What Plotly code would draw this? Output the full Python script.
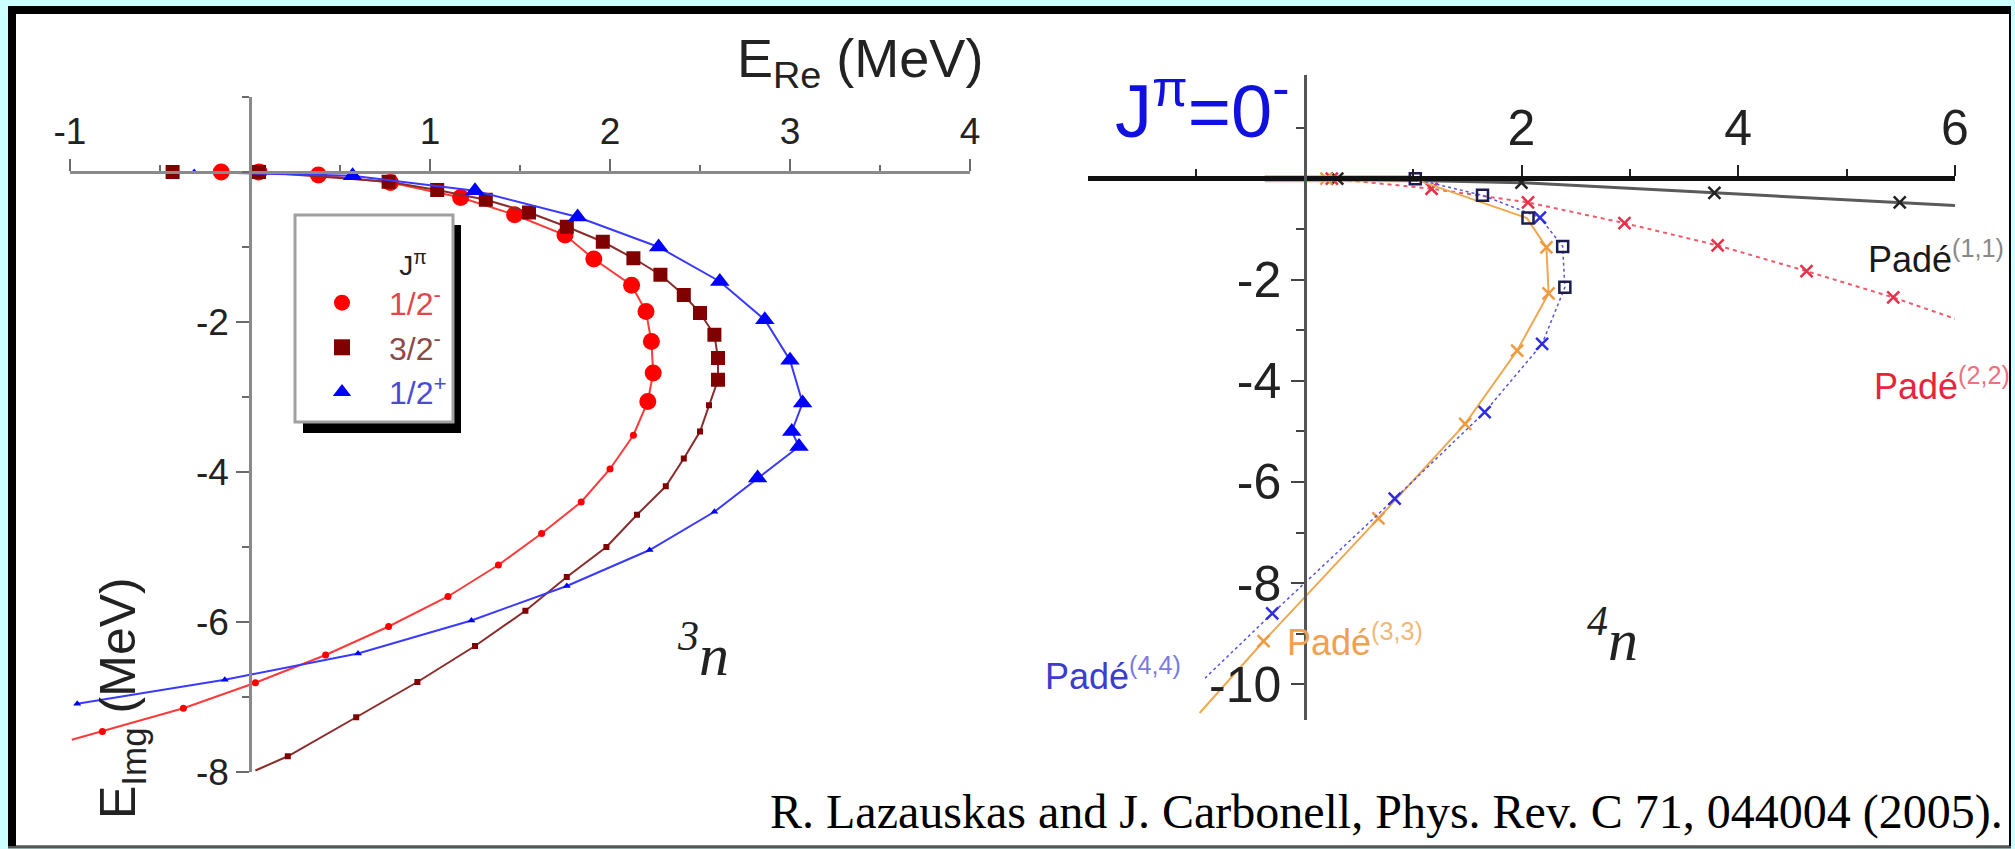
import plotly.graph_objects as go

W, H = 2015, 849

# ---------------- data : left panel, 3n resonance trajectories ----------------
half_minus_x = [-0.16, 0.05, 0.38, 0.78, 1.17, 1.47, 1.75, 1.91, 2.12, 2.20, 2.23, 2.24, 2.21,
                2.13, 2.00, 1.84, 1.62, 1.38, 1.10, 0.77, 0.42, 0.03, -0.37, -0.82, -0.99]
half_minus_y = [0.0, 0.0, -0.04, -0.14, -0.34, -0.57, -0.84, -1.16, -1.51, -1.86, -2.26, -2.68, -3.06,
                -3.51, -3.96, -4.40, -4.82, -5.24, -5.66, -6.06, -6.44, -6.81, -7.15, -7.46, -7.57]

three_half_minus_x = [-0.43, 0.05, 0.77, 1.04, 1.31, 1.55, 1.76, 1.96, 2.13, 2.28, 2.41, 2.50, 2.58, 2.60,
                      2.60, 2.55, 2.50, 2.41, 2.31, 2.15, 1.98, 1.76, 1.53, 1.25, 0.93, 0.59, 0.21, 0.03]
three_half_minus_y = [0.0, 0.0, -0.13, -0.24, -0.37, -0.54, -0.73, -0.93, -1.15, -1.37, -1.64, -1.88, -2.17,
                      -2.48, -2.77, -3.11, -3.46, -3.82, -4.19, -4.57, -5.00, -5.40, -5.85, -6.32, -6.80,
                      -7.27, -7.79, -7.98]

half_plus_x = [-0.31, 0.57, 1.25, 1.82, 2.27, 2.61, 2.86, 3.00, 3.07, 3.01, 3.05, 2.82, 2.58, 2.22,
               1.76, 1.23, 0.60, -0.14, -0.96]
half_plus_y = [0.0, -0.05, -0.25, -0.60, -1.00, -1.46, -1.97, -2.51, -3.08, -3.46, -3.66, -4.08, -4.53,
               -5.04, -5.52, -5.98, -6.42, -6.77, -7.09]

# ---------------- data : right panel, 4n J^pi=0^- Pade continuations ----------------
pade11_x = [0.30, 2.00, 3.78, 5.49, 6.00]
pade11_y = [0.0, -0.08, -0.28, -0.47, -0.53]

pade22_x = [0.25, 1.17, 2.06, 2.95, 3.81, 4.63, 5.43, 6.00]
pade22_y = [0.0, -0.20, -0.47, -0.88, -1.32, -1.83, -2.35, -2.77]

pade33_axis_x = [-0.37, 1.00]
pade33_axis_y = [0.0, 0.0]
pade33_x = [0.20, 1.00, 2.05, 2.23, 2.25, 1.96, 1.48, 0.68, -0.38, -0.97]
pade33_y = [0.0, 0.0, -0.78, -1.36, -2.27, -3.40, -4.85, -6.72, -9.15, -10.57]

pade44_x = [1.00, 1.64, 2.17, 2.38, 2.40, 2.19, 1.66, 0.83, -0.30, -0.92]
pade44_y = [0.0, -0.33, -0.77, -1.34, -2.15, -3.27, -4.62, -6.33, -8.60, -9.88]

square_x = [1.02, 1.64, 2.06, 2.38, 2.40]
square_y = [0.0, -0.33, -0.78, -1.34, -2.15]

left_xticks = [-1, 1, 2, 3, 4]
left_yticks = [-2, -4, -6, -8]
right_xticks = [2, 4, 6]
right_yticks = [-2, -4, -6, -8, -10]

# ---------------- helpers (layout only) ----------------
def px(x):
    return x / W


def py(y):
    return 1 - y / H


def flags(n, shown):
    return [1 if i in shown else 0 for i in range(n)]


SANS = "Liberation Sans, Arial, sans-serif"
SERIF = "Liberation Serif, Times New Roman, serif"

fig = go.Figure()


def left_series(x, y, big_idx, symbol, mcolor, lcolor, big, small, no_marker_last=False):
    n = len(x)
    size = [big if i in big_idx else small for i in range(n)]
    op = [1] * n
    if no_marker_last:
        op[-1] = 0
    fig.add_trace(go.Scatter(
        x=x, y=y, mode="lines+markers", xaxis="x", yaxis="y", showlegend=False,
        line=dict(color=lcolor, width=2),
        marker=dict(symbol=symbol, size=size, color=mcolor, opacity=op, line=dict(width=0)),
        cliponaxis=False))


left_series(half_minus_x, half_minus_y, range(0, 13), "circle", "#ff0000", "#ff3a3a", 17, 7, True)
left_series(three_half_minus_x, three_half_minus_y, range(0, 15), "square", "#800000", "#8b2c2c", 14, 6, True)
left_series(half_plus_x, half_plus_y, range(1, 12), "triangle-up", "#0000ff", "#3a3aff", 17, 7)

# legend-only entries
for name, sym, col in [
    ('<span style="color:#e04848">1/2<sup>-</sup></span>', "circle", "#ff0000"),
    ('<span style="color:#8a4a4a">3/2<sup>-</sup></span>', "square", "#800000"),
    ('<span style="color:#4a4ad8">1/2<sup>+</sup></span>', "triangle-up", "#0000ff"),
]:
    fig.add_trace(go.Scatter(x=[None], y=[None], mode="markers", xaxis="x", yaxis="y",
                             name=name, marker=dict(symbol=sym, size=18, color=col)))


def right_series(x, y, lcolor, lwidth, dash, mcolor, shown, msize=12):
    n = len(x)
    fig.add_trace(go.Scatter(
        x=x, y=y, mode="lines+markers", xaxis="x2", yaxis="y2", showlegend=False,
        line=dict(color=lcolor, width=lwidth, dash=dash),
        marker=dict(symbol="x-thin", size=msize, color=mcolor, opacity=flags(n, shown),
                    line=dict(color=mcolor, width=2.5)),
        cliponaxis=False))


# thick orange segment on the real axis
fig.add_trace(go.Scatter(x=pade33_axis_x, y=pade33_axis_y, mode="lines", xaxis="x2", yaxis="y2",
                         showlegend=False, line=dict(color="#f2a27a", width=7)))
right_series(pade11_x, pade11_y, "#5a5a5a", 3, "solid", "#222222", {0, 1, 2, 3})
right_series(pade22_x, pade22_y, "#ee5a6a", 2, "4px,4px", "#e8304a", {0, 1, 2, 3, 4, 5, 6})
right_series(pade33_x, pade33_y, "#f0a850", 2, "solid", "#f09a40", {0, 3, 4, 5, 6, 7, 8})
right_series(pade44_x, pade44_y, "#5555e0", 1.5, "dot", "#2c2ce0", {2, 5, 6, 7, 8})
fig.add_trace(go.Scatter(x=square_x, y=square_y, mode="markers", xaxis="x2", yaxis="y2", showlegend=False,
                         marker=dict(symbol="square-open", size=11, color="#1c1c50", line=dict(width=2.5)),
                         cliponaxis=False))

# ---------------- axes ----------------
left_font = dict(family=SANS, size=37, color="#222222")
right_font = dict(family=SANS, size=50, color="#222222")

common = dict(showgrid=False, zeroline=False, automargin=False, fixedrange=True)

fig.update_layout(
    xaxis=dict(domain=[px(70), px(970)], range=[-1, 4], anchor="free", position=py(172), side="top",
               showline=True, linecolor="#8a8a8a", linewidth=3, ticks="outside", ticklen=12, tickwidth=2,
               tickcolor="#6a6a6a", tickmode="array", tickvals=left_xticks,
               ticktext=[str(v) for v in left_xticks], tickfont=left_font,
               minor=dict(tickmode="array", tickvals=[-0.5, 0.5, 1.5, 2.5, 3.5], ticklen=6, tickwidth=2,
                          tickcolor="#6a6a6a", ticks="outside", showgrid=False), **common),
    yaxis=dict(domain=[py(772), py(97)], range=[-8, 1], anchor="free", position=px(250), side="left",
               showline=True, linecolor="#8a8a8a", linewidth=2.5, ticks="outside", ticklen=13, tickwidth=2,
               tickcolor="#6a6a6a", tickmode="array", tickvals=left_yticks,
               ticktext=[str(v) for v in left_yticks], tickfont=left_font,
               minor=dict(tickmode="array", tickvals=[1, 0, -1, -3, -5, -7], ticklen=7, tickwidth=2,
                          tickcolor="#6a6a6a", ticks="outside", showgrid=False), **common),
    xaxis2=dict(domain=[px(1088), px(1955)], range=[-2, 6], anchor="free", position=py(178), side="top",
                showline=True, linecolor="#111111", linewidth=5, ticks="outside", ticklen=11, tickwidth=2,
                tickcolor="#222222", tickmode="array", tickvals=right_xticks,
                ticktext=[str(v) for v in right_xticks], tickfont=right_font,
                minor=dict(tickmode="array", tickvals=[-1, 1, 3, 5], ticklen=7, tickwidth=2,
                           tickcolor="#222222", ticks="outside", showgrid=False), **common),
    yaxis2=dict(domain=[py(719.6), py(75)], range=[-10.7, 2.05], anchor="free", position=px(1305),
                side="left", showline=True, linecolor="#555555", linewidth=2.5, ticks="outside", ticklen=13,
                tickwidth=2, tickcolor="#444444", tickmode="array", tickvals=right_yticks,
                ticktext=[str(v) for v in right_yticks], tickfont=right_font,
                minor=dict(tickmode="array", tickvals=[1, -1, -3, -5, -7, -9], ticklen=8, tickwidth=2,
                           tickcolor="#444444", ticks="outside", showgrid=False), **common),
)

# ---------------- frame / legend box ----------------
shapes = [
    dict(type="rect", xref="paper", yref="paper", x0=px(8), x1=px(2011), y0=py(846), y1=py(6),
         fillcolor="#000000", line=dict(width=0), layer="below"),
    dict(type="rect", xref="paper", yref="paper", x0=px(8), x1=px(2011), y0=py(848.6), y1=py(846),
         fillcolor="#555555", line=dict(width=0), layer="below"),
    dict(type="rect", xref="paper", yref="paper", x0=px(16), x1=px(2009), y0=py(845.5), y1=py(14),
         fillcolor="#ffffff", line=dict(width=0), layer="below"),
    # legend shadow and box
    dict(type="rect", xref="paper", yref="paper", x0=px(303), x1=px(461), y0=py(433), y1=py(225),
         fillcolor="#000000", line=dict(width=0), layer="below"),
    dict(type="rect", xref="paper", yref="paper", x0=px(295), x1=px(453), y0=py(422), y1=py(215),
         fillcolor="#ffffff", line=dict(color="#a0a0a0", width=3), layer="below"),
]

# ---------------- text ----------------
ann = []


def text(t, x, y, size, color, family=SANS, xanchor="center", yanchor="middle", angle=0):
    ann.append(dict(text=t, x=px(x), y=py(y), xref="paper", yref="paper", showarrow=False,
                    xanchor=xanchor, yanchor=yanchor, textangle=angle,
                    font=dict(family=family, size=size, color=color)))


text("E<sub>Re</sub> (MeV)", 985, 62, 54, "#222222", xanchor="right")
text("E<sub>Img</sub> (MeV)", 121, 698, 50, "#222222", angle=-90)
text("<i><sup>3</sup>n</i>", 703, 650, 60, "#222222", family=SERIF)
text("<i><sup>4</sup>n</i>", 1612, 635, 60, "#222222", family=SERIF)
text("J<sup>π</sup>=0<sup>-</sup>", 1202, 106, 74, "#1010e0", family=SANS)
text('Padé<sup><span style="color:#888888">(1,1)</span></sup>', 1866, 257, 36, "#1a1a1a", xanchor="left")
text('Padé<sup><span style="color:#f07080">(2,2)</span></sup>', 1872, 384, 36, "#e8243c", xanchor="left")
text('Padé<sup><span style="color:#7a7ae0">(4,4)</span></sup>', 1043, 674, 36, "#3c3cd0", xanchor="left")
text('Padé<sup><span style="color:#f3b878">(3,3)</span></sup>', 1285, 640, 36, "#f0a050", xanchor="left")
text("R. Lazauskas and J. Carbonell, Phys. Rev. C 71, 044004 (2005).", 2005, 812, 48, "#000000",
     family=SERIF, xanchor="right")

fig.update_layout(
    width=W, height=H, autosize=False,
    margin=dict(l=0, r=0, t=0, b=0, pad=0),
    paper_bgcolor="#ccffff", plot_bgcolor="rgba(0,0,0,0)",
    font=dict(family=SANS, color="#222222"),
    shapes=shapes, annotations=ann,
    showlegend=True,
    legend=dict(x=px(295), y=py(239), xanchor="left", yanchor="top", bgcolor="rgba(0,0,0,0)",
                borderwidth=0, font=dict(family=SANS, size=32), itemwidth=84,
                title=dict(text="J<sup>π</sup>\u00a0\u00a0\u00a0", side="top right",
                           font=dict(family=SANS, size=28, color="#222222")),
                itemsizing="trace"),
)

fig.write_html("out.html", config={"displayModeBar": False},
               post_script="document.body.style.margin='0px';")
